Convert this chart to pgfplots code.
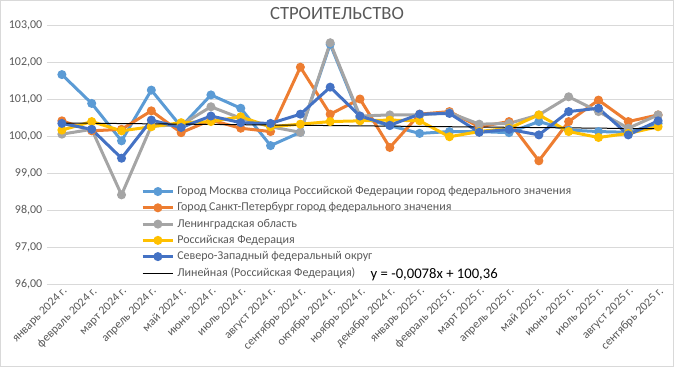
\documentclass[border=0pt]{standalone}
\usepackage{pgfplots}
\pgfplotsset{compat=1.18}
\usepackage{fontspec}
\setmainfont{Carlito}
\definecolor{cMos}{HTML}{5B9BD5}
\definecolor{cSpb}{HTML}{ED7D31}
\definecolor{cLen}{HTML}{A5A5A5}
\definecolor{cRF}{HTML}{FFC000}
\definecolor{cNW}{HTML}{4472C4}
\definecolor{cTxt}{HTML}{595959}
\definecolor{cGrid}{HTML}{D9D9D9}
\begin{document}
\begin{tikzpicture}
\draw[draw=cGrid, line width=0.75pt] (0.375pt,-0.375pt) rectangle (505.125pt,-274.875pt);
\node[text=cTxt, font=\fontsize{14}{16}\selectfont] at (252.75pt,-10.5pt) {СТРОИТЕЛЬСТВО};
\begin{axis}[
  at={(35.25pt,-213pt)}, anchor=south west,
  scale only axis, width=469.5pt, height=194.25pt,
  xmin=-0.5, xmax=20.5, ymin=96, ymax=103,
  ytick={96,97,...,103},
  xtick={0,...,20},
  xticklabels={январь 2024 г.,февраль 2024 г.,март 2024 г.,апрель 2024 г.,май 2024 г.,июнь 2024 г.,июль 2024 г.,август 2024 г.,сентябрь 2024 г.,октябрь 2024 г.,ноябрь 2024 г.,декабрь 2024 г.,январь 2025 г.,февраль 2025 г.,март 2025 г.,апрель 2025 г.,май 2025 г.,июнь 2025 г.,июль 2025 г.,август 2025 г.,сентябрь 2025 г.},
  x tick label style={font=\fontsize{9}{10}\selectfont, text=cTxt, rotate=45, anchor=north east, inner sep=1pt},
  y tick label style={font=\fontsize{9}{10}\selectfont, text=cTxt},
  /pgf/number format/assume math mode=true,
  yticklabel={\pgfmathprintnumber[fixed, fixed zerofill, precision=2, use comma]{\tick}},
  ymajorgrids, grid style={draw=cGrid, line width=0.75pt},
  axis line style={draw=none}, major tick length=0pt,
  every axis plot/.append style={line width=2.25pt, mark=*, mark size=2.2pt},
  legend style={at={(0.148,0.393)}, anchor=north west, draw=none, fill=none,
    font=\fontsize{9}{10}\selectfont, text=cTxt, row sep=0.6pt, inner sep=1pt},
  legend cell align=left,
  legend image code/.code={\draw[mark repeat=2,mark phase=2] plot coordinates {(0cm,0cm) (0.4cm,0cm) (0.8cm,0cm)};},
]
\addplot[color=cMos] coordinates {(0,101.66)(1,100.88)(2,99.87)(3,101.24)(4,100.25)(5,101.11)(6,100.75)(7,99.74)(8,100.10)(9,102.48)(10,100.50)(11,100.28)(12,100.07)(13,100.12)(14,100.12)(15,100.09)(16,100.39)(17,100.16)(18,100.12)(19,100.10)(20,100.34)};
\addlegendentry{Город Москва столица Российской Федерации город федерального значения}
\addplot[color=cSpb] coordinates {(0,100.41)(1,100.14)(2,100.18)(3,100.68)(4,100.09)(5,100.43)(6,100.21)(7,100.12)(8,101.86)(9,100.59)(10,101.00)(11,99.69)(12,100.59)(13,100.66)(14,100.25)(15,100.39)(16,99.33)(17,100.39)(18,100.97)(19,100.39)(20,100.57)};
\addlegendentry{Город Санкт-Петербург город федерального значения}
\addplot[color=cLen] coordinates {(0,100.05)(1,100.18)(2,98.41)(3,100.27)(4,100.30)(5,100.79)(6,100.48)(7,100.25)(8,100.10)(9,102.52)(10,100.54)(11,100.57)(12,100.57)(13,100.63)(14,100.32)(15,100.34)(16,100.57)(17,101.06)(18,100.66)(19,100.21)(20,100.57)};
\addlegendentry{Ленинградская область}
\addplot[color=cRF] coordinates {(0,100.16)(1,100.39)(2,100.14)(3,100.25)(4,100.36)(5,100.39)(6,100.52)(7,100.25)(8,100.32)(9,100.39)(10,100.41)(11,100.43)(12,100.41)(13,99.98)(14,100.12)(15,100.21)(16,100.57)(17,100.12)(18,99.96)(19,100.07)(20,100.25)};
\addlegendentry{Российская Федерация}
\addplot[color=cNW] coordinates {(0,100.34)(1,100.18)(2,99.40)(3,100.43)(4,100.23)(5,100.54)(6,100.36)(7,100.34)(8,100.59)(9,101.32)(10,100.54)(11,100.29)(12,100.59)(13,100.61)(14,100.10)(15,100.18)(16,100.03)(17,100.66)(18,100.75)(19,100.03)(20,100.41)};
\addlegendentry{Северо-Западный федеральный округ}
\addplot[color=black, line width=0.75pt, mark=none] coordinates {(0,100.3522)(20,100.1962)};
\addlegendentry{Линейная (Российская Федерация)}
\node[anchor=west, font=\fontsize{11}{12}\selectfont, inner sep=0pt] at (axis cs:10.35,96.26) {y = -0,0078x + 100,36};
\end{axis}
\end{tikzpicture}
\end{document}
